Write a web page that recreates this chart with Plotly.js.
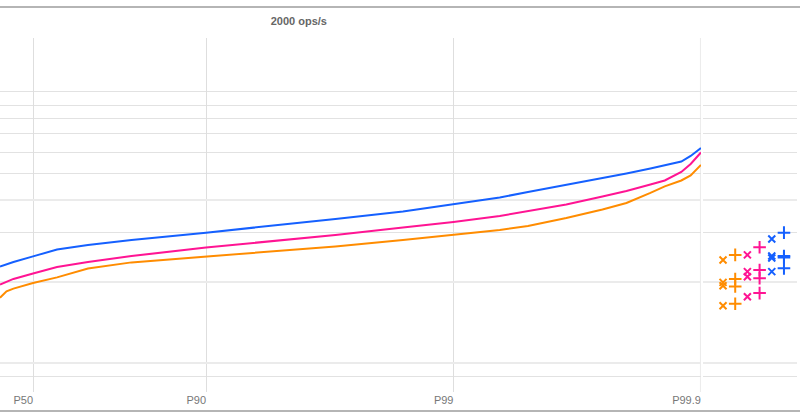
<!DOCTYPE html>
<html>
<head>
<meta charset="utf-8">
<script src="https://cdn.plot.ly/plotly-3.0.1.min.js"></script>
<style>html,body{margin:0;padding:0;background:#fff;}#chart{width:800px;height:419px;}</style>
</head>
<body>
<div id="chart"></div>
<script>
// ---- data ----
const title = "2000 ops/s";
const percentiles = [32, 36, 40, 50, 60, 70, 80, 90, 95, 97, 98.4, 99, 99.35, 99.5, 99.65, 99.75, 99.8, 99.84, 99.86, 99.88, 99.89, 99.9];
const blueLatency   = [1.55, 1.66, 1.76, 2.06, 2.51, 2.84, 3.28, 4.03, 5.00, 5.93, 7.33, 9.06, 10.9, 12.7, 15.5, 18.6, 21.5, 24.7, 26.9, 30.1, 35.2, 44.1];
const pinkLatency   = [0.93, 1.01, 1.09, 1.27, 1.53, 1.76, 2.08, 2.65, 3.23, 3.77, 4.67, 5.45, 6.45, 7.43, 8.93, 11.2, 13.1, 15.7, 17.6, 22.4, 28.1, 38.8];
const orangeLatency = [0.64, 0.77, 0.83, 0.97, 1.14, 1.46, 1.74, 2.06, 2.44, 2.73, 3.28, 3.77, 4.35, 4.87, 6.10, 7.76, 9.32, 12.4, 14.9, 17.6, 20.3, 27.3];

const markerSlots = ["orange ×", "orange +", "pink ×", "pink +", "blue ×", "blue +"];
const orangeX    = [1.86, 0.99, 0.90, 0.51];
const orangePlus = [2.15, 1.09, 0.88, 0.54];
const pinkX      = [2.15, 1.34, 1.16, 0.66];
const pinkPlus   = [2.67, 1.40, 1.11, 0.73];
const blueX      = [3.37, 2.08, 1.97, 1.34];
const bluePlus   = [4.03, 2.08, 2.00, 1.47];

const tickPercentiles = [50, 90, 99, 99.9];
const tickLabels = ["P50", "P90", "P99", "P99.9"];
const majorGrid = [0.1, 1, 10];
const minorGrid = [0.07, 4, 21.7, 38.8, 65.5, 101, 146, 215];

// ---- build ----
const toX = p => 100 / (100 - p);
const xs = percentiles.map(toX);
const BLUE = "#1560ff", PINK = "#ff1493", ORANGE = "#ff8c00";

function lineTrace(y, c) {
  return {x: xs, y: y, type: "scatter", mode: "lines", xaxis: "x", yaxis: "y",
          line: {color: c, width: 2}, hoverinfo: "skip", showlegend: false};
}
function markTrace(slot, y, c, sym) {
  const isX = sym === "x-thin";
  return {x: y.map(() => slot), y: y, type: "scatter", mode: "markers", xaxis: "x2", yaxis: "y",
          marker: {symbol: sym, size: isX ? 7 : 9, color: c, line: {color: c, width: 2}},
          hoverinfo: "skip", showlegend: false, cliponaxis: false};
}

const traces = [
  lineTrace(orangeLatency, ORANGE),
  lineTrace(pinkLatency, PINK),
  lineTrace(blueLatency, BLUE),
  markTrace(markerSlots[0], orangeX, ORANGE, "x-thin"),
  markTrace(markerSlots[1], orangePlus, ORANGE, "cross-thin"),
  markTrace(markerSlots[2], pinkX, PINK, "x-thin"),
  markTrace(markerSlots[3], pinkPlus, PINK, "cross-thin"),
  markTrace(markerSlots[4], blueX, BLUE, "x-thin"),
  markTrace(markerSlots[5], bluePlus, BLUE, "cross-thin")
];

const FONT = "'Liberation Sans', Arial, sans-serif";
const layout = {
  width: 800, height: 419,
  margin: {l: 0, r: 3, t: 38, b: 27, pad: 0},
  paper_bgcolor: "#ffffff", plot_bgcolor: "#ffffff",
  font: {family: FONT, size: 11, color: "#777"},
  showlegend: false,
  title: {text: title, x: 0.375, xanchor: "center", xref: "paper", y: 0.95, yanchor: "middle",
          font: {family: FONT, size: 11, color: "#666", weight: "bold"}},
  xaxis: {
    type: "log", domain: [0, 0.8796], range: [Math.log10(toX(32)), 3.0005],
    tickmode: "array", tickvals: tickPercentiles.map(toX), ticktext: tickLabels,
    ticklabelposition: "outside left", ticks: "", showline: false, zeroline: false,
    showgrid: true, gridcolor: "#dedede", gridwidth: 1,
    tickfont: {family: FONT, size: 11, color: "#777"}, fixedrange: true
  },
  xaxis2: {
    type: "category", domain: [0.8821, 1], categoryorder: "array", categoryarray: markerSlots,
    range: [-1.64, 6.07], showgrid: false, showticklabels: false, ticks: "",
    zeroline: false, showline: false, anchor: "y", fixedrange: true
  },
  yaxis: {
    type: "log", range: [-1.35, 2.994], tickmode: "array", tickvals: majorGrid,
    showticklabels: false, ticks: "", showline: false, zeroline: false,
    showgrid: true, gridcolor: "#ebebeb", gridwidth: 2,
    minor: {tickmode: "array", tickvals: minorGrid, showgrid: true, gridcolor: "#e2e2e2", gridwidth: 1, ticks: ""},
    fixedrange: true
  },
  shapes: [
    {type: "line", xref: "x", yref: "paper", x0: 1000, x1: 1000, y0: 0, y1: 1,
     line: {color: "#ececec", width: 2}, layer: "below"},
    {type: "line", xref: "paper", yref: "paper", x0: -0.01, x1: 1.01, y0: 1 + 31/354, y1: 1 + 31/354,
     line: {color: "#b5b5b5", width: 2}},
    {type: "line", xref: "paper", yref: "paper", x0: -0.01, x1: 1.01, y0: -19/354, y1: -19/354,
     line: {color: "#b5b5b5", width: 2}}
  ]
};

Plotly.newPlot("chart", traces, layout, {displayModeBar: false, staticPlot: true});
</script>
</body>
</html>
